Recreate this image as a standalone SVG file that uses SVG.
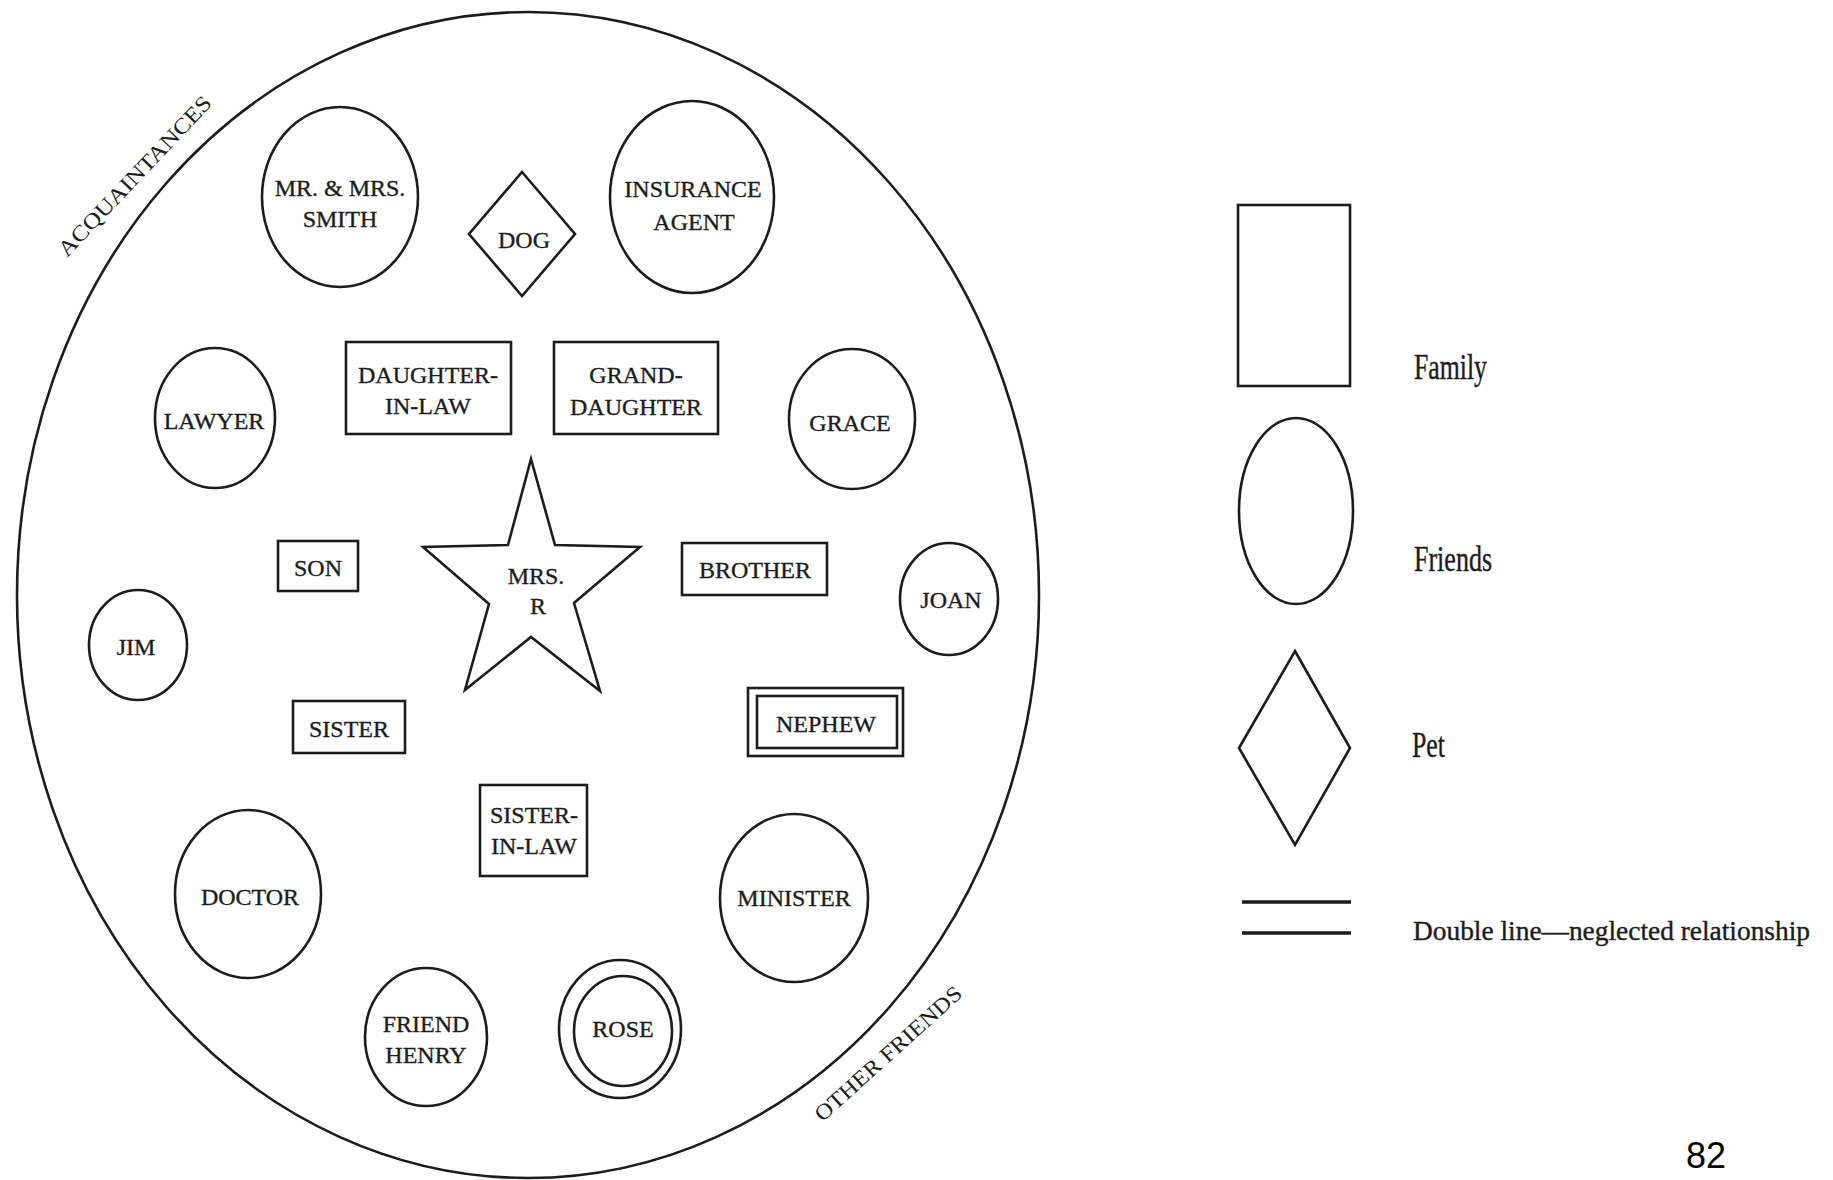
<svg xmlns="http://www.w3.org/2000/svg" width="1833" height="1180" viewBox="0 0 1833 1180">
<style>
.s{fill:none;stroke:#1c1c1c;stroke-width:2.6}
.t{font-family:"Liberation Serif","Times New Roman",serif;font-size:24px;fill:#1c1c1c;stroke:#1c1c1c;stroke-width:0.35;text-anchor:middle}
.a{font-family:"Liberation Serif","Times New Roman",serif;font-size:22px;fill:#1c1c1c;text-anchor:middle}
.lg{font-family:"Liberation Serif","Times New Roman",serif;font-size:36px;fill:#1c1c1c;stroke:#1c1c1c;stroke-width:0.4}
</style>
<rect width="1833" height="1180" fill="#ffffff"/>
<g id="boundary">
<ellipse class="s" cx="528" cy="595" rx="511" ry="583"/>
<text class="a" transform="translate(140,181) rotate(-46.5)" textLength="212" lengthAdjust="spacingAndGlyphs">ACQUAINTANCES</text>
<text class="a" transform="translate(893,1059) rotate(-42)" textLength="190" lengthAdjust="spacingAndGlyphs">OTHER FRIENDS</text>
</g>
<g id="connectors"></g>
<g id="mrs-r"><polygon class="s" points="531,459 555,545 640,547 574,603 600,691 531,637 465,690 489,604 423,547 508,545"/><text class="t" x="536" y="584">MRS.</text><text class="t" x="538" y="614">R</text></g>
<g id="smith"><ellipse class="s" cx="340" cy="197" rx="78" ry="90"/><text class="t" x="340" y="196">MR. &amp; MRS.</text><text class="t" x="340" y="227">SMITH</text></g>
<g id="dog"><polygon class="s" points="522,172 575,234 522,296 469,234"/><text class="t" x="524" y="248">DOG</text></g>
<g id="insurance"><ellipse class="s" cx="692" cy="197" rx="82" ry="96"/><text class="t" x="693" y="197">INSURANCE</text><text class="t" x="694" y="230">AGENT</text></g>
<g id="lawyer"><ellipse class="s" cx="215" cy="418" rx="60" ry="70"/><text class="t" x="214" y="429">LAWYER</text></g>
<g id="daughter-in-law"><rect class="s" x="346" y="342" width="165" height="92"/><text class="t" x="428" y="383">DAUGHTER-</text><text class="t" x="428" y="414">IN-LAW</text></g>
<g id="granddaughter"><rect class="s" x="554" y="342" width="164" height="92"/><text class="t" x="636" y="383">GRAND-</text><text class="t" x="636" y="415">DAUGHTER</text></g>
<g id="grace"><ellipse class="s" cx="852" cy="419" rx="63" ry="70"/><text class="t" x="850" y="431">GRACE</text></g>
<g id="son"><rect class="s" x="278" y="541" width="80" height="50"/><text class="t" x="318" y="576">SON</text></g>
<g id="brother"><rect class="s" x="682" y="543" width="145" height="52"/><text class="t" x="755" y="578">BROTHER</text></g>
<g id="joan"><ellipse class="s" cx="949" cy="599" rx="49" ry="56"/><text class="t" x="951" y="608">JOAN</text></g>
<g id="jim"><ellipse class="s" cx="138" cy="645" rx="49" ry="55"/><text class="t" x="136" y="655">JIM</text></g>
<g id="sister"><rect class="s" x="293" y="701" width="112" height="52"/><text class="t" x="349" y="737">SISTER</text></g>
<g id="nephew"><rect class="s" x="748" y="688" width="155" height="68"/><rect class="s" x="757" y="696" width="140" height="52"/><text class="t" x="826" y="732">NEPHEW</text></g>
<g id="sister-in-law"><rect class="s" x="480" y="785" width="107" height="91"/><text class="t" x="534" y="823">SISTER-</text><text class="t" x="534" y="854">IN-LAW</text></g>
<g id="doctor"><ellipse class="s" cx="248" cy="894" rx="73" ry="84"/><text class="t" x="250" y="905">DOCTOR</text></g>
<g id="minister"><ellipse class="s" cx="794" cy="898" rx="74" ry="84"/><text class="t" x="794" y="906">MINISTER</text></g>
<g id="friend-henry"><ellipse class="s" cx="426" cy="1037" rx="61" ry="69"/><text class="t" x="426" y="1032">FRIEND</text><text class="t" x="426" y="1063">HENRY</text></g>
<g id="rose"><ellipse class="s" cx="620" cy="1029" rx="61" ry="69"/><ellipse class="s" cx="623" cy="1031" rx="49" ry="55"/><text class="t" x="623" y="1037">ROSE</text></g>
<g id="legend">
<rect class="s" x="1238" y="205" width="112" height="181"/>
<text class="lg" x="1414" y="379" textLength="73" lengthAdjust="spacingAndGlyphs">Family</text>
<ellipse class="s" cx="1296" cy="511" rx="57" ry="93"/>
<text class="lg" x="1414" y="571" textLength="78" lengthAdjust="spacingAndGlyphs">Friends</text>
<polygon class="s" points="1295,651 1350,748 1295,845 1239,748"/>
<text class="lg" x="1412" y="757" textLength="33" lengthAdjust="spacingAndGlyphs">Pet</text>
<line x1="1242" y1="902" x2="1351" y2="902" stroke="#1c1c1c" stroke-width="3.5"/>
<line x1="1242" y1="933" x2="1351" y2="933" stroke="#1c1c1c" stroke-width="3.5"/>
<text class="lg" x="1413" y="940" style="font-size:28px" textLength="397" lengthAdjust="spacingAndGlyphs">Double line—neglected relationship</text>
</g>
<text x="1686" y="1168" font-family="'Liberation Sans',Arial,sans-serif" font-size="36" fill="#000">82</text>
</svg>
